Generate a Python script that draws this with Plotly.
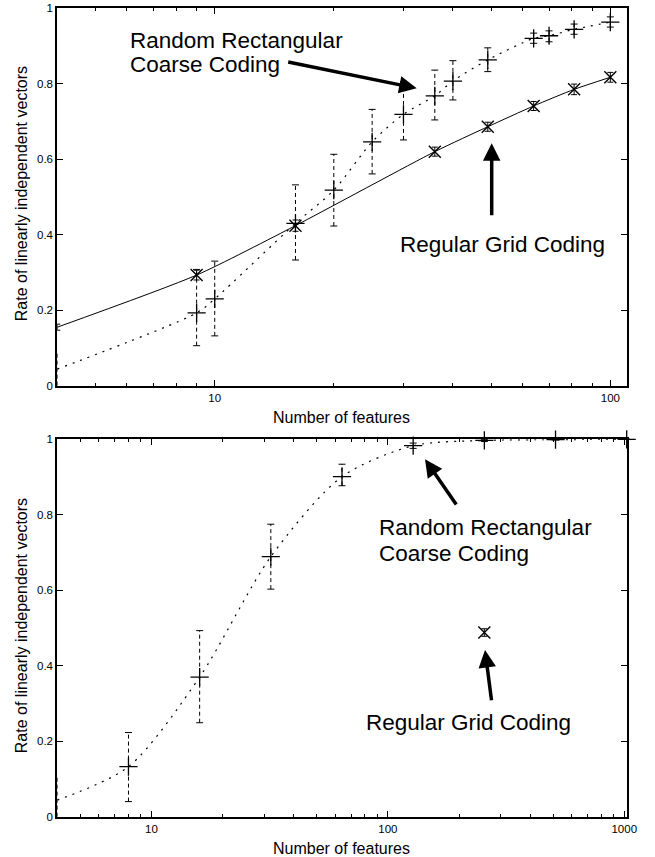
import math
import plotly.graph_objects as go

# ---------------- data: top panel ----------------
grid_x = [4, 9, 16, 36, 49, 64, 81, 100]
grid_y = [0.155, 0.293, 0.424, 0.620, 0.686, 0.741, 0.785, 0.817]
grid_err = [0.008, 0.013, 0.015, 0.012, 0.012, 0.012, 0.014, 0.013]

rand_x = [4, 9, 10, 16, 20, 25, 30, 36, 40, 49, 64, 70, 81, 100]
rand_y = [0.044, 0.193, 0.230, 0.430, 0.518, 0.646, 0.719, 0.768, 0.807, 0.863, 0.920, 0.927, 0.944, 0.963]
rand_hi = [0.088, 0.308, 0.330, 0.532, 0.613, 0.732, 0.805, 0.836, 0.861, 0.895, 0.934, 0.940, 0.958, 0.977]
rand_lo = [0.000, 0.106, 0.132, 0.333, 0.423, 0.561, 0.651, 0.704, 0.757, 0.832, 0.907, 0.911, 0.931, 0.950]

# ---------------- data: bottom panel ----------------
rand2_x = [4, 8, 16, 32, 64, 128, 256, 512, 1024]
rand2_y = [0.044, 0.1325, 0.370, 0.689, 0.901, 0.983, 0.997, 0.999, 1.0]
rand2_hi = [0.106, 0.223, 0.493, 0.775, 0.934, 0.990, 1.0, 1.0, 1.0]
rand2_lo = [0.0, 0.040, 0.249, 0.603, 0.877, 0.976, 0.994, 0.998, 1.0]

grid2_x = [256]
grid2_y = [0.488]
grid2_err = [0.010]

x_ticks_top = [10, 100]
x_ticks_bottom = [10, 100, 1000]
x_minor = [5, 6, 7, 8, 9, 20, 30, 40, 50, 60, 70, 80, 90, 200, 300, 400, 500, 600, 700, 800, 900]

FONT = "Liberation Sans, Arial, Helvetica, sans-serif"
W, H = 655, 857


def err_segments(xs, lo, hi):
    sx, sy = [], []
    for x, l, h in zip(xs, lo, hi):
        sx += [x, x, None]
        sy += [l, h, None]
    return sx, sy


def add_random(fig, xs, ys, lo, hi, xa, ya):
    fig.add_trace(go.Scatter(x=xs, y=ys, mode="lines", xaxis=xa, yaxis=ya,
                             line=dict(color="black", width=1.2, dash="2px,6px", shape="spline", smoothing=0.8),
                             cliponaxis=False, hoverinfo="skip"))
    sx, sy = err_segments(xs, lo, hi)
    fig.add_trace(go.Scatter(x=sx, y=sy, mode="lines", xaxis=xa, yaxis=ya,
                             line=dict(color="black", width=1, dash="4px,3px"),
                             cliponaxis=False, hoverinfo="skip"))
    fig.add_trace(go.Scatter(x=list(xs) + list(xs), y=list(lo) + list(hi), mode="markers",
                             xaxis=xa, yaxis=ya,
                             marker=dict(symbol="line-ew", size=5, line=dict(color="black", width=1)),
                             cliponaxis=False, hoverinfo="skip"))
    fig.add_trace(go.Scatter(x=xs, y=ys, mode="markers", xaxis=xa, yaxis=ya,
                             marker=dict(symbol="cross-thin", size=13, line=dict(color="black", width=1.3)),
                             cliponaxis=False))


def add_grid(fig, xs, ys, err, xa, ya, with_line=True):
    if with_line:
        fig.add_trace(go.Scatter(x=xs, y=ys, mode="lines", xaxis=xa, yaxis=ya,
                                 line=dict(color="black", width=1, shape="spline", smoothing=0.6),
                                 cliponaxis=False, hoverinfo="skip"))
    fig.add_trace(go.Scatter(x=xs, y=ys, mode="markers", xaxis=xa, yaxis=ya,
                             marker=dict(symbol="x-thin", size=12, line=dict(color="black", width=1.4)),
                             error_y=dict(type="data", array=err, color="black", thickness=1, width=3),
                             cliponaxis=False))


fig = go.Figure()
add_grid(fig, grid_x, grid_y, grid_err, "x", "y")
add_random(fig, rand_x, rand_y, rand_lo, rand_hi, "x", "y")
add_random(fig, rand2_x, rand2_y, rand2_lo, rand2_hi, "x2", "y2")
add_grid(fig, grid2_x, grid2_y, grid2_err, "x2", "y2", with_line=False)

xdom = [57.3 / W, 626.7 / W]
ydom_top = [1 - 385.7 / H, 1 - 8.2 / H]
ydom_bot = [1 - 816.7 / H, 1 - 439.3 / H]

axis_common = dict(showline=True, linecolor="black", linewidth=2, mirror="allticks",
                   ticks="inside", tickcolor="black", ticklen=6, tickwidth=1,
                   showgrid=False, zeroline=False, automargin=False,
                   tickfont=dict(family=FONT, size=11.5, color="black"))

xaxis_common = dict(axis_common, type="log",
                    minor=dict(ticks="inside", ticklen=3, tickcolor="black", tickwidth=1,
                               showgrid=False, tickmode="array", tickvals=x_minor))

fig.update_layout(
    width=W, height=H,
    margin=dict(l=0, r=0, t=0, b=0, autoexpand=False),
    paper_bgcolor="white", plot_bgcolor="white",
    showlegend=False,
    font=dict(family=FONT, color="black"),
    xaxis=dict(xaxis_common, domain=xdom, anchor="y",
               range=[math.log10(4), math.log10(110)],
               tickvals=x_ticks_top, ticktext=[str(v) for v in x_ticks_top]),
    yaxis=dict(axis_common, domain=ydom_top, anchor="x", range=[0, 1], dtick=0.2, tick0=0),
    xaxis2=dict(xaxis_common, domain=xdom, anchor="y2",
                range=[math.log10(4), math.log10(1024)],
                tickvals=x_ticks_bottom, ticktext=[str(v) for v in x_ticks_bottom]),
    yaxis2=dict(axis_common, domain=ydom_bot, anchor="x2", range=[0, 1], dtick=0.2, tick0=0),
)


def px(xp):
    return xp / W


def py(yp):
    return 1 - yp / H


ann = []
BIG = dict(family=FONT, size=22.5, color="black")
MID = dict(family=FONT, size=16, color="black")


def text(x, y, s, font, xanchor="left", angle=0):
    ann.append(dict(x=px(x), y=py(y), xref="paper", yref="paper", text=s, showarrow=False,
                    xanchor=xanchor, yanchor="middle", font=font, textangle=angle))


def arrow(hx, hy, tx, ty):
    ann.append(dict(x=px(hx), y=py(hy), xref="paper", yref="paper", text="", showarrow=True,
                    ax=tx - hx, ay=ty - hy, axref="pixel", ayref="pixel",
                    arrowhead=2, arrowsize=1.0, arrowwidth=3.5, arrowcolor="black", standoff=0))


# top panel labels
text(127.7, 41, "Random Rectangular", BIG)
text(127.7, 65, "Coarse Coding", BIG)
arrow(416.7, 88.3, 286.7, 61.7)
text(397.7, 244.5, "Regular Grid Coding", BIG)
arrow(491.7, 143.3, 491.7, 216.7)

# bottom panel labels
text(377.3, 527, "Random Rectangular", BIG)
text(377.3, 553, "Coarse Coding", BIG)
arrow(425, 459.3, 457.3, 506)
text(364.3, 722.5, "Regular Grid Coding", BIG)
arrow(485, 650, 491.7, 701.7)

# axis titles
text(341.5, 417, "Number of features", MID, xanchor="center")
text(341.5, 848, "Number of features", MID, xanchor="center")
text(21.7, 193.5, "Rate of linearly independent vectors", MID, xanchor="center", angle=-90)
text(21.7, 625.5, "Rate of linearly independent vectors", MID, xanchor="center", angle=-90)

fig.update_layout(annotations=ann)

fig.write_html("out.html")
